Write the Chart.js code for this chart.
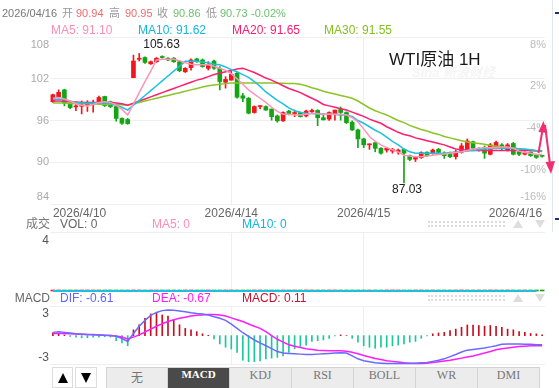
<!DOCTYPE html>
<html>
<head>
<meta charset="utf-8">
<title>WTI原油 1H</title>
<script src="https://cdn.jsdelivr.net/npm/chart.js@4.4.1/dist/chart.umd.min.js"></script>
<style>
  body { margin: 0; background: #fff; }
  #wrap { position: relative; width: 559px; height: 388px; overflow: hidden; background: #fff;
          font-family: "Liberation Sans", Arial, "Noto Sans CJK SC", sans-serif; }
  #wrap canvas { position: absolute; left: 0; }
  .t { position: absolute; white-space: nowrap; line-height: 1; }
  .s11 { font-size: 11px; }
  .s12 { font-size: 12px; }
  .grip { position: absolute; left: 428px; width: 77px; height: 2px; border-top: 2px dotted #ddd; border-bottom: 2px dotted #ddd; }
  .up { position: absolute; width: 0; height: 0; border-left: 5px solid transparent; border-right: 5px solid transparent; border-bottom: 8px solid #ddd; }
  .dn { position: absolute; width: 0; height: 0; border-left: 5px solid transparent; border-right: 5px solid transparent; border-top: 8px solid #ddd; }
  .btn { position: absolute; top: 367px; height: 21px; box-sizing: border-box; border: 1px solid #ddd; background: #fff; }
  .btn i { position: absolute; left: 50%; top: 5px; margin-left: -5px; width: 0; height: 0; border-left: 5px solid transparent; border-right: 5px solid transparent; }
  #tabs { position: absolute; left: 106px; top: 367px; display: flex; }
  #tabs div { box-sizing: border-box; width: 62px; height: 22px; line-height: 21px; text-align: center;
              border: 1px solid #d4d4d4; border-left: none; background: #ececec; color: #777;
              font: 12px "Liberation Serif", "Times New Roman", "Noto Sans CJK SC", serif; }
  #tabs div:first-child { border-left: 1px solid #d4d4d4; }
  #tabs div.on { background: #4a4a4a; color: #fff; font-weight: bold; font-size: 11px; }
</style>
</head>
<body>
<div id="wrap">
  <canvas id="main" width="559" height="220" style="top:0"></canvas>
  <canvas id="vol" width="559" height="70" style="top:226px"></canvas>
  <canvas id="macd" width="559" height="70" style="top:300px"></canvas>

  <!-- quote line -->
  <span class="t s11" style="left:2px;top:8px;color:#777">2026/04/16</span>
  <span class="t s11" style="left:62px;top:8px;color:#999">开</span>
  <span class="t s11" style="left:76px;top:8px;color:#f26a6a">90.94</span>
  <span class="t s11" style="left:109px;top:8px;color:#999">高</span>
  <span class="t s11" style="left:125px;top:8px;color:#f26a6a">90.95</span>
  <span class="t s11" style="left:157px;top:8px;color:#999">收</span>
  <span class="t s11" style="left:173px;top:8px;color:#6cc06c">90.86</span>
  <span class="t s11" style="left:206px;top:8px;color:#999">低</span>
  <span class="t s11" style="left:220px;top:8px;color:#6cc06c">90.73</span>
  <span class="t s11" style="left:251px;top:8px;color:#6cc06c">-0.02%</span>

  <span class="t s12" style="left:51px;top:24px;color:#ff8db5">MA5: 91.10</span>
  <span class="t s12" style="left:138px;top:24px;color:#12b8dd">MA10: 91.62</span>
  <span class="t s12" style="left:232px;top:24px;color:#ff1a6e">MA20: 91.65</span>
  <span class="t s12" style="left:324px;top:24px;color:#84c01c">MA30: 91.55</span>

  <span class="t" style="left:412px;top:66px;font-size:13px;font-style:italic;font-weight:bold;color:#f5f5f5">Sina 新浪财经</span>
  <span class="t" style="left:389px;top:51px;font-size:17px;color:#1a1a1a">WTI原油 1H</span>

  <!-- volume header -->
  <span class="t s12" style="right:509px;top:218px;color:#777">成交</span>
  <span class="t s12" style="left:60px;top:218px;color:#666">VOL: 0</span>
  <span class="t s12" style="left:152px;top:218px;color:#ff8db5">MA5: 0</span>
  <span class="t s12" style="left:242px;top:218px;color:#12b8dd">MA10: 0</span>
  <div class="grip" style="top:221px"></div>
  <div class="up" style="left:513px;top:220px"></div>
  <div class="dn" style="left:535px;top:220px"></div>

  <!-- macd header -->
  <span class="t s12" style="right:509px;top:292px;color:#666">MACD</span>
  <span class="t s12" style="left:60px;top:292px;color:#6262ff">DIF: -0.61</span>
  <span class="t s12" style="left:152px;top:292px;color:#ff1aff">DEA: -0.67</span>
  <span class="t s12" style="left:242px;top:292px;color:#c8102e">MACD: 0.11</span>
  <div class="grip" style="top:295px"></div>
  <div class="up" style="left:513px;top:294px"></div>
  <div class="dn" style="left:535px;top:294px"></div>

  <!-- bottom controls -->
  <div class="btn" style="left:52px;width:21px"><i style="border-bottom:10px solid #000"></i></div>
  <div class="btn" style="left:75px;width:22px"><i style="border-top:10px solid #000"></i></div>
  <div id="tabs">
    <div>无</div><div class="on">MACD</div><div>KDJ</div><div>RSI</div><div>BOLL</div><div>WR</div><div>DMI</div>
  </div>

  <div style="position:absolute;left:552px;top:0;width:1px;height:232px;background:#dfe6ee"></div>
  <div style="position:absolute;left:555px;top:12px;width:4px;height:2px;background:#1c2f6e"></div>
  <div style="position:absolute;left:555px;top:218px;width:4px;height:2px;background:#1c2f6e"></div>

  <svg style="position:absolute;left:0;top:0" width="559" height="388">
    <line x1="538.5" y1="153" x2="542.5" y2="130" stroke="#f0306e" stroke-width="2"/>
    <polygon points="543.5,121 538.5,132 547.5,133" fill="#f0306e"/>
    <line x1="545" y1="125" x2="550" y2="164" stroke="#f0306e" stroke-width="2"/>
    <polygon points="551,174 545.5,162 555,161" fill="#f0306e"/>
  </svg>
</div>

<script>
// 1H candles, 2026/4/10 .. 2026/4/16
const opens = [98.7,99.4,100.4,98.5,97.95,98.05,98.25,98.35,98.7,99.45,
  98.7,98.0,96.3,96.15,102.15,104.8,105.05,104.15,104.45,105.2,
  104.95,104.95,104.45,103.0,103.6,104.85,104.7,103.5,104.55,103.5,
  101.5,101.8,102.8,99.55,99.2,97.15,98.0,98.0,97.65,96.65,
  95.95,97.35,97.0,97.15,96.65,97.25,97.45,96.4,96.2,96.95,
  97.65,97.15,95.75,94.65,93.35,92.5,92.8,92.0,91.75,91.6,
  91.5,91.85,90.95,90.45,90.65,91.45,91.25,91.85,91.3,91.3,
  90.8,91.45,91.75,92.95,91.75,92.15,91.15,92.0,92.5,91.75,
  92.7,91.5,91.15,91.45,91.05,90.94];
const highs = [99.8,100.4,100.5,98.5,98.5,98.8,98.85,98.95,99.5,99.5,
  98.8,98.1,96.4,96.3,105.4,105.63,105.15,104.55,105.05,105.3,
  105.05,105.05,104.55,103.6,104.85,104.95,104.85,104.45,104.7,103.75,
  102.3,103.25,103.0,99.9,99.3,98.1,98.1,98.1,97.65,96.8,
  97.25,97.45,97.5,97.2,97.5,97.65,97.55,97.0,97.25,97.5,
  97.95,97.25,95.95,94.75,93.45,92.65,92.85,92.1,92.15,92.0,
  91.9,91.85,91.05,90.8,91.5,91.5,91.9,92.0,91.5,91.45,
  91.75,92.7,93.35,93.05,92.1,92.35,92.7,93.05,92.7,92.7,
  92.85,91.6,91.5,91.5,91.15,90.95];
const lows = [98.6,99.2,98.1,97.7,97.4,96.95,97.3,97.2,98.5,98.0,
  97.85,95.9,95.45,95.45,102.15,104.55,104.2,104.05,104.35,104.95,
  104.6,104.35,103.0,102.9,103.25,104.35,103.65,103.25,103.35,100.4,
  100.65,101.8,99.2,98.7,96.95,97.05,97.65,97.45,96.05,95.75,
  95.85,96.8,96.55,96.5,96.5,97.15,95.25,96.05,96.0,96.05,
  96.05,95.55,94.55,92.1,92.1,91.85,91.5,91.15,91.45,91.3,
  91.15,87.03,90.2,90.1,90.55,90.85,91.15,91.3,90.55,90.65,
  90.45,91.3,91.6,91.75,91.6,90.55,91.05,91.9,91.75,91.6,
  91.05,90.95,91.05,90.85,90.55,90.73];
const closes = [99.7,100.05,98.5,97.85,98.1,98.25,98.45,98.5,99.3,98.15,
  98.0,96.3,95.6,95.55,104.55,104.95,104.35,104.45,104.95,105.05,
  104.7,104.45,103.15,103.5,104.7,104.45,103.75,104.05,103.5,101.6,
  101.9,102.65,99.35,99.2,97.05,98.0,98.1,97.5,96.55,95.95,
  97.15,97.0,97.15,96.55,97.35,97.45,96.4,96.1,97.15,97.5,
  97.15,95.7,94.65,93.35,92.5,92.6,92.0,91.3,92.0,91.85,
  91.75,91.3,90.4,90.7,91.4,90.95,91.75,91.4,90.95,90.8,
  91.5,92.35,93.05,92.0,92.0,91.3,92.5,92.85,92.0,92.5,
  91.15,91.15,91.4,90.95,90.7,90.86];

const ma5 = [99.2,99.3,99.1,98.8,98.4,98.2,98.1,98.3,98.6,98.7,
  98.6,98.2,97.6,96.8,98.4,100.0,101.6,103.1,104.7,104.8,
  104.8,104.8,104.6,104.3,104.1,104.0,104.0,104.0,103.8,103.5,
  103.2,102.7,102.0,101.2,100.4,99.8,99.2,98.6,97.9,97.3,
  96.9,96.9,96.8,96.8,96.9,97.0,97.0,96.9,96.9,96.9,
  96.9,96.8,96.4,95.8,94.8,93.7,93.0,92.5,92.1,91.8,
  91.5,91.0,90.9,90.8,90.8,90.9,91.0,91.1,91.2,91.3,
  91.4,91.5,91.7,91.9,92.0,92.1,92.1,92.1,92.2,92.2,
  92.0,91.6,91.4,91.3,91.1,91.1];
const ma10 = [99.0,99.05,99.0,98.8,98.6,98.5,98.5,98.5,98.5,98.5,
  98.4,98.2,97.9,97.5,98.2,98.9,99.6,100.3,101.0,101.7,
  102.4,103.1,103.8,104.5,104.5,104.5,104.4,104.3,104.1,104.0,
  103.7,103.3,103.0,102.6,102.2,101.6,100.9,100.1,99.5,98.9,
  98.4,97.8,97.4,97.2,97.0,97.0,96.95,96.9,96.9,96.85,
  96.8,96.8,96.6,96.0,95.6,95.1,94.6,94.2,93.6,93.0,
  92.5,91.9,91.5,91.3,91.3,91.3,91.3,91.3,91.3,91.4,
  91.45,91.5,91.6,91.7,91.8,91.9,91.95,92.0,92.0,92.0,
  92.0,91.95,91.9,91.8,91.7,91.62];
const ma20 = [98.8,98.8,98.75,98.7,98.65,98.6,98.6,98.6,98.6,98.6,
  98.6,98.5,98.4,98.2,98.5,98.8,99.1,99.4,99.7,100.0,
  100.3,100.6,100.9,101.2,101.5,101.8,102.0,102.3,102.6,102.8,
  103.0,103.2,103.4,103.5,103.2,102.9,102.5,102.1,101.8,101.4,
  101.0,100.6,100.3,100.0,99.6,99.2,98.8,98.3,98.1,97.9,
  97.7,97.5,97.2,96.9,96.6,96.2,95.9,95.6,95.1,94.7,
  94.3,94.0,93.8,93.5,93.3,93.1,92.9,92.7,92.5,92.2,
  91.9,91.8,91.75,91.7,91.7,91.7,91.7,91.7,91.7,91.7,
  91.7,91.7,91.7,91.7,91.65,91.65];
const ma30 = [98.5,98.5,98.5,98.45,98.4,98.4,98.4,98.4,98.35,98.3,
  98.3,98.3,98.25,98.2,98.4,98.6,98.8,99.0,99.2,99.4,
  99.6,99.8,100.0,100.2,100.4,100.6,100.8,101.0,101.1,101.2,
  101.3,101.4,101.4,101.4,101.4,101.4,101.4,101.4,101.4,101.35,
  101.35,101.3,101.3,101.2,101.0,100.7,100.5,100.2,100.0,99.8,
  99.6,99.4,99.2,98.8,98.3,97.8,97.4,97.1,96.8,96.4,
  96.0,95.7,95.3,95.0,94.7,94.5,94.2,94.0,93.7,93.5,
  93.3,93.1,92.9,92.8,92.7,92.6,92.4,92.3,92.2,92.1,
  92.0,91.9,91.8,91.7,91.6,91.55];

// volume panel: all zero
const volumes = [0,0,0,0,0,0,0,0,0,0, 0,0,0,0,0,0,0,0,0,0, 0,0,0,0,0,0,0,0,0,0,
  0,0,0,0,0,0,0,0,0,0, 0,0,0,0,0,0,0,0,0,0, 0,0,0,0,0,0,0,0,0,0,
  0,0,0,0,0,0,0,0,0,0, 0,0,0,0,0,0,0,0,0,0, 0,0,0,0,0,0];
const volMa5 = [0,0,0,0,0,0,0,0,0,0, 0,0,0,0,0,0,0,0,0,0, 0,0,0,0,0,0,0,0,0,0,
  0,0,0,0,0,0,0,0,0,0, 0,0,0,0,0,0,0,0,0,0, 0,0,0,0,0,0,0,0,0,0,
  0,0,0,0,0,0,0,0,0,0, 0,0,0,0,0,0,0,0,0,0, 0,0,0,0,0,null];
const volMa10 = volMa5.slice();

const macdHist = [0.4,0.3,0.1,-0.1,-0.2,-0.3,-0.3,-0.2,-0.2,-0.15,
  -0.2,-0.7,-1.0,-1.4,0.8,1.5,2.4,3.0,3.1,2.85,
  2.7,2.2,1.5,1.0,0.8,0.55,0.25,0.05,-0.46,-1.15,
  -1.6,-1.85,-2.3,-3.4,-3.6,-3.6,-3.5,-3.2,-3.1,-3.0,
  -2.8,-2.3,-1.8,-1.6,-1.3,-0.8,-0.7,-0.6,-0.37,-0.05,
  0.1,0.0,-0.37,-0.9,-1.4,-1.6,-1.75,-1.6,-1.6,-1.4,
  -1.3,-1.15,-0.9,-0.8,-0.37,-0.05,0.25,0.37,0.46,0.7,
  0.9,1.15,1.47,1.47,1.4,1.3,1.4,1.3,1.15,0.9,
  0.8,0.55,0.46,0.3,0.25,0.11];
const dif = [0.45,0.55,0.45,0.35,0.25,0.2,0.15,0.12,0.1,0.05,
  0.02,-0.1,-0.4,-0.8,0.3,1.3,2.1,2.8,3.2,3.45,
  3.55,3.5,3.4,3.3,3.15,3.05,3.0,2.85,2.6,2.4,
  2.1,1.6,1.0,0.4,-0.1,-0.6,-1.0,-1.4,-1.8,-2.2,
  -2.4,-2.45,-2.5,-2.55,-2.6,-2.6,-2.55,-2.5,-2.45,-2.4,
  -2.35,-2.4,-2.8,-3.2,-3.45,-3.6,-3.75,-3.8,-3.85,-3.85,
  -3.85,-3.85,-3.85,-3.8,-3.75,-3.7,-3.55,-3.4,-3.2,-2.9,
  -2.6,-2.25,-2.0,-1.9,-1.8,-1.7,-1.55,-1.4,-1.2,-1.15,
  -1.15,-1.15,-1.2,-1.2,-1.25,-1.25];
const dea = [0.3,0.3,0.28,0.25,0.22,0.2,0.17,0.14,0.1,0.06,
  0.02,-0.05,-0.2,-0.45,-0.2,0.1,0.5,0.9,1.3,1.65,
  1.95,2.2,2.4,2.55,2.7,2.8,2.85,2.9,2.9,2.85,
  2.7,2.45,2.2,1.95,1.6,1.3,1.0,0.55,0.0,-0.5,
  -0.9,-1.25,-1.45,-1.65,-1.8,-1.9,-2.0,-2.05,-2.1,-2.1,
  -2.1,-2.15,-2.3,-2.5,-2.75,-2.95,-3.15,-3.3,-3.45,-3.55,
  -3.65,-3.75,-3.8,-3.85,-3.85,-3.8,-3.7,-3.6,-3.5,-3.4,
  -3.25,-3.1,-2.95,-2.8,-2.6,-2.4,-2.2,-1.95,-1.8,-1.7,
  -1.6,-1.5,-1.45,-1.4,-1.4,-1.38];

const dateTicks = ['2026/4/10', '2026/4/14', '2026/4/15', '2026/4/16'];
const dateTickIndex = [0, 31, 54, 85];
const priceTicks = [108, 102, 96, 90, 84];
const volTicks = [4];
const macdTicks = [4, 3, -3, -4];

const UP = '#f3161c', DOWN = '#14a514';
const C_MA5 = '#ff94b8', C_MA10 = '#1ec0e0', C_MA20 = '#ff1f6e', C_MA30 = '#8cc425';
const GRID = '#efefef';
const NONE = 'rgba(0,0,0,0)';

Chart.defaults.font.family = '"Liberation Sans", Arial, sans-serif';
Chart.defaults.animation = false;
Chart.defaults.plugins.legend.display = false;
Chart.defaults.plugins.tooltip.enabled = false;

const labels = opens.map((o, i) => String(i));
const candleColors = opens.map((o, i) => closes[i] >= o ? UP : DOWN);
const dayLines = dateTickIndex.slice(1, -1);

// y axes: fixed width, no extra label padding above / below the plot
function fixY(width) {
  return s => { s.width = width; s.paddingTop = 0; s.paddingBottom = 0; };
}

// shared time axis (grid lines at the day changes)
function timeAxis(extra) {
  return Object.assign({
    offset: true,
    grid: { offset: false, drawTicks: false, color: c => dayLines.includes(c.index) ? GRID : NONE },
    border: { display: false },
    ticks: { display: false }
  }, extra);
}

function maLine(data, color) {
  return { type: 'line', data: data, borderColor: color, borderWidth: 1.5, pointRadius: 0, tension: 0, order: 1 };
}

// high / low markers
const extremeLabels = {
  id: 'extremeLabels',
  afterDatasetsDraw(chart) {
    const { ctx, scales: { x, y } } = chart;
    const hi = highs.indexOf(Math.max(...highs));
    const lo = lows.indexOf(Math.min(...lows));
    ctx.save();
    ctx.font = '12px "Liberation Sans", Arial, sans-serif';
    ctx.fillStyle = '#222';
    ctx.textBaseline = 'alphabetic';
    ctx.textAlign = 'left';
    ctx.fillText(highs[hi].toFixed(2), x.getPixelForValue(hi) + 4, y.getPixelForValue(highs[hi]) - 5);
    ctx.textAlign = 'center';
    ctx.fillText(lows[lo].toFixed(2), x.getPixelForValue(lo) + 3, y.getPixelForValue(lows[lo]) + 10.5);
    ctx.restore();
  }
};

new Chart(document.getElementById('main'), {
  type: 'bar',
  data: {
    labels: labels,
    datasets: [
      maLine(ma5, C_MA5),
      maLine(ma10, C_MA10),
      maLine(ma20, C_MA20),
      maLine(ma30, C_MA30),
      { type: 'bar', data: opens.map((o, i) => [o, closes[i]]), backgroundColor: candleColors,
        barThickness: 4, minBarLength: 1, grouped: false, order: 2 },
      { type: 'bar', data: lows.map((l, i) => [l, highs[i]]), backgroundColor: candleColors,
        barThickness: 1, grouped: false, order: 3 }
    ]
  },
  options: {
    responsive: false,
    layout: { padding: { top: 37, right: 14, left: 0, bottom: 0 } },
    scales: {
      x: timeAxis({
        ticks: {
          autoSkip: false, maxRotation: 0, align: 'inner', padding: 2, color: '#666', font: { size: 12 },
          callback: (v, i) => { const k = dateTickIndex.indexOf(i); return k < 0 ? '' : dateTicks[k]; }
        },
        afterFit: s => { s.height = 16; }
      }),
      y: {
        position: 'left', min: 84, max: 108,
        afterBuildTicks: s => { s.ticks = priceTicks.map(v => ({ value: v })); },
        afterFit: fixY(50),
        grid: { color: GRID, drawTicks: false },
        border: { display: false },
        ticks: {
          padding: 1, color: '#aaa', font: { size: 11, lineHeight: '15px' },
          callback: v => v === 108 ? ['', '108'] : (v === 84 ? ['84', ''] : String(v))
        }
      },
      pct: {
        position: 'right', min: 84, max: 108,
        afterBuildTicks: s => { s.ticks = priceTicks.map(v => ({ value: v })); },
        afterFit: fixY(0),
        grid: { display: false },
        border: { display: false },
        ticks: {
          mirror: true, padding: 1, color: '#bbb', font: { size: 11, lineHeight: '15px' },
          callback: v => { const s = (v - 100) + '%'; return v === 84 ? [s, ''] : ['', s]; }
        }
      }
    }
  },
  plugins: [extremeLabels]
});

new Chart(document.getElementById('vol'), {
  type: 'bar',
  data: {
    labels: labels,
    datasets: [
      { type: 'line', data: volMa10, borderColor: C_MA10, borderWidth: 2, pointRadius: 0, order: 0, clip: false },
      { type: 'line', data: volMa5, borderColor: C_MA5, borderWidth: 2, pointRadius: 0, order: 1, clip: false },
      { type: 'bar', data: volumes, backgroundColor: candleColors, barThickness: 4, minBarLength: 1, order: 2, clip: false }
    ]
  },
  options: {
    responsive: false,
    layout: { padding: { top: 6, right: 14, left: 0, bottom: 0 } },
    scales: {
      x: timeAxis({ afterFit: s => { s.height = 5; } }),
      y: {
        min: 0, max: 4,
        afterBuildTicks: s => { s.ticks = volTicks.map(v => ({ value: v })); },
        afterFit: fixY(50),
        grid: { color: GRID, drawTicks: false },
        border: { display: false },
        ticks: { padding: 1, color: '#555', font: { size: 12, lineHeight: '17px' }, callback: v => ['', String(v)] }
      }
    }
  }
});

new Chart(document.getElementById('macd'), {
  type: 'bar',
  data: {
    labels: labels,
    datasets: [
      { type: 'line', data: dif, borderColor: '#6a6aff', borderWidth: 1.5, pointRadius: 0, order: 0 },
      { type: 'line', data: dea, borderColor: '#ff1cff', borderWidth: 1.5, pointRadius: 0, order: 1 },
      { type: 'bar', data: macdHist, backgroundColor: macdHist.map(v => v >= 0 ? '#c80f1e' : '#1dc79c'),
        barThickness: 1, order: 2 }
    ]
  },
  options: {
    responsive: false,
    layout: { padding: { top: 7, right: 14, left: 0, bottom: 0 } },
    scales: {
      x: timeAxis({ afterFit: s => { s.height = 5; } }),
      y: {
        min: -4.05, max: 3.95,
        afterBuildTicks: s => { s.ticks = macdTicks.map(v => ({ value: v })); },
        afterFit: fixY(50),
        grid: { drawTicks: false, color: c => Math.abs(c.tick.value) === 4 ? GRID : NONE },
        border: { display: false },
        ticks: { padding: 1, color: '#555', font: { size: 12 }, callback: v => Math.abs(v) === 3 ? String(v) : '' }
      }
    }
  }
});
</script>
</body>
</html>
